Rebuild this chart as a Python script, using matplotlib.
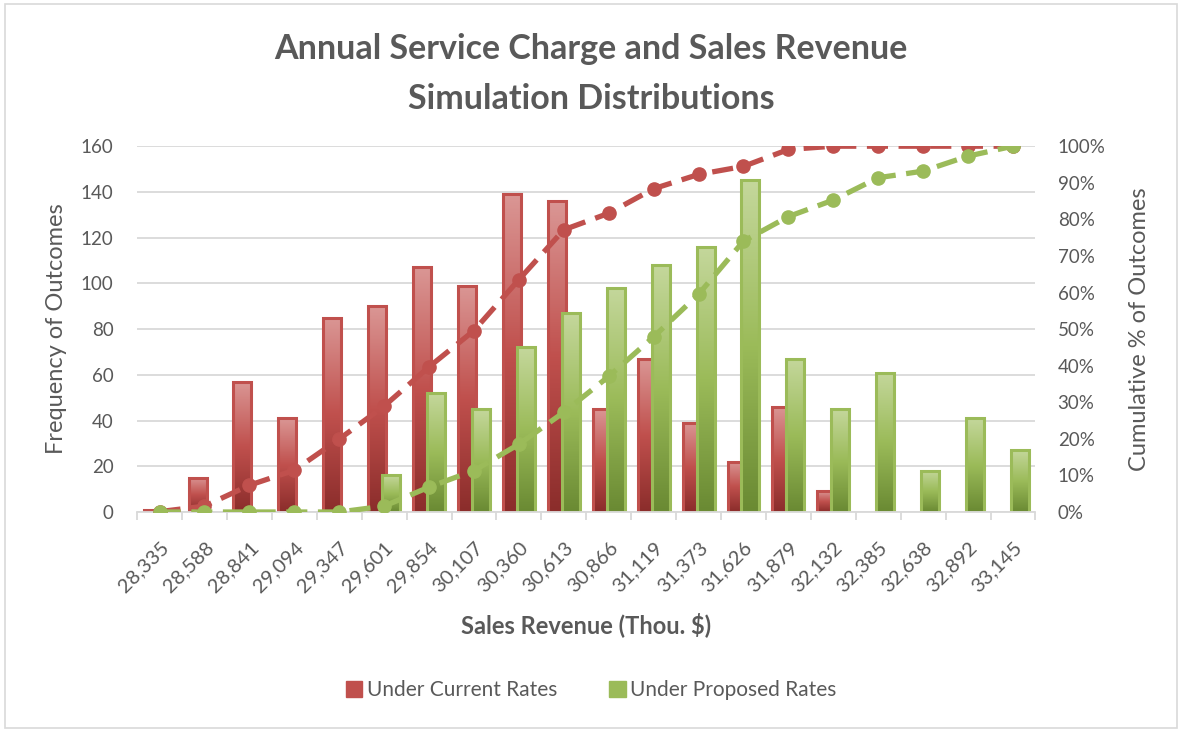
import numpy as np
import matplotlib.pyplot as plt
from matplotlib.colors import LinearSegmentedColormap
from matplotlib.patches import Rectangle
from matplotlib.ticker import PercentFormatter

plt.rcParams['font.family'] = ['Lato', 'DejaVu Sans']

# данные
bins = ['28,335', '28,588', '28,841', '29,094', '29,347', '29,601', '29,854',
        '30,107', '30,360', '30,613', '30,866', '31,119', '31,373', '31,626',
        '31,879', '32,132', '32,385', '32,638', '32,892', '33,145']
current = [1, 15, 57, 41, 85, 90, 107, 99, 139, 136, 45, 67, 39, 22, 46, 9, 0, 0, 0, 0]
proposed = [0, 0, 0, 0, 0, 16, 52, 45, 72, 87, 98, 108, 116, 145, 67, 45, 61, 18, 41, 27]

# накопленный процент
cum_current = np.cumsum(current) / np.sum(current) * 100
cum_proposed = np.cumsum(proposed) / np.sum(proposed) * 100

grey = '#595959'
red, green = '#C0504D', '#9BBB59'
red_cmap = LinearSegmentedColormap.from_list('r', ['#8B2D2B', '#C0504D', '#DA9694'])
green_cmap = LinearSegmentedColormap.from_list('g', ['#6A8A33', '#9BBB59', '#C4D79B'])

fig = plt.figure(figsize=(11.82, 7.31), dpi=100)
ax = fig.add_axes([0.116, 0.2996, 0.76, 0.5004])
x = np.arange(len(bins))
w, off = 0.4, 0.155

grad = np.linspace(0, 1, 100).reshape(-1, 1)


def gradient_bars(xs, vals, cmap, edge, z):
    # столбики с градиентной заливкой
    for xi, v in zip(xs, vals):
        if v <= 0:
            continue
        ax.imshow(grad, extent=[xi - w / 2, xi + w / 2, 0, v], origin='lower',
                  aspect='auto', cmap=cmap, zorder=z, interpolation='bilinear')
        ax.add_patch(Rectangle((xi - w / 2, 0), w, v, fill=False,
                               edgecolor=edge, linewidth=2.2, zorder=z + 0.1))


gradient_bars(x - off, current, red_cmap, red, 2)
gradient_bars(x + off, proposed, green_cmap, green, 3)

ax.set_xlim(-0.5, len(bins) - 0.5)
ax.set_ylim(0, 160)
ax.set_yticks(range(0, 161, 20))
ax.yaxis.grid(True, color='#D9D9D9', linewidth=1.3)
ax.set_axisbelow(True)
for s in ['top', 'left', 'right']:
    ax.spines[s].set_visible(False)
ax.spines['bottom'].set_color('#D9D9D9')
ax.spines['bottom'].set_linewidth(1.3)
ax.spines['bottom'].set_zorder(5)

ax.set_xticks(x)
ax.set_xticklabels(bins, rotation=45, ha='right', rotation_mode='anchor')
ax.tick_params(axis='x', length=0, pad=19, labelsize=14.5, labelcolor=grey)
ax.set_xticks(np.arange(-0.5, len(bins)), minor=True)
ax.tick_params(axis='x', which='minor', length=6, color='#D9D9D9', width=1.3)
ax.tick_params(axis='y', length=0, pad=17, labelsize=13.5, labelcolor=grey)

ax.set_ylabel('Frequency of Outcomes', fontsize=17, color=grey, labelpad=10)
ax.set_xlabel('Sales Revenue (Thou. $)', fontsize=17, color=grey,
              fontweight='bold', labelpad=12)

# правая ось - накопленный процент
ax2 = ax.twinx()
ax2.plot(x, cum_current, color=red, linestyle='--', linewidth=3.8,
         marker='o', markersize=9.5, dashes=(4, 2))
ax2.plot(x, cum_proposed, color=green, linestyle='--', linewidth=3.8,
         marker='o', markersize=9.5, dashes=(4, 2))
ax2.set_ylim(0, 100)
ax2.set_yticks(range(0, 101, 10))
ax2.yaxis.set_major_formatter(PercentFormatter(decimals=0))
ax2.tick_params(axis='y', length=0, pad=16, labelsize=13.5, labelcolor=grey)
for s in ax2.spines.values():
    s.set_visible(False)
ax2.set_ylabel('Cumulative % of Outcomes', fontsize=17, color=grey, labelpad=17)

fig.suptitle('Annual Service Charge and Sales Revenue\nSimulation Distributions',
             x=0.5, y=0.955, fontsize=24.5, fontweight='bold', color=grey,
             linespacing=1.7)

# легенда
handles = [Rectangle((0, 0), 1, 1, facecolor=red, edgecolor=red),
           Rectangle((0, 0), 1, 1, facecolor=green, edgecolor=green)]
fig.legend(handles, ['Under Current Rates', 'Under Proposed Rates'],
           loc='center', bbox_to_anchor=(0.5, 0.056), ncol=2, frameon=False,
           fontsize=15, labelcolor=grey, handlelength=0.8, handleheight=0.8,
           handletextpad=0.2, columnspacing=2.5)

# рамка вокруг диаграммы
fig.patches.append(Rectangle((0.004, 0.004), 0.992, 0.99, transform=fig.transFigure,
                             fill=False, edgecolor='#D9D9D9', linewidth=1.2))

plt.savefig('out.png', dpi=100)
